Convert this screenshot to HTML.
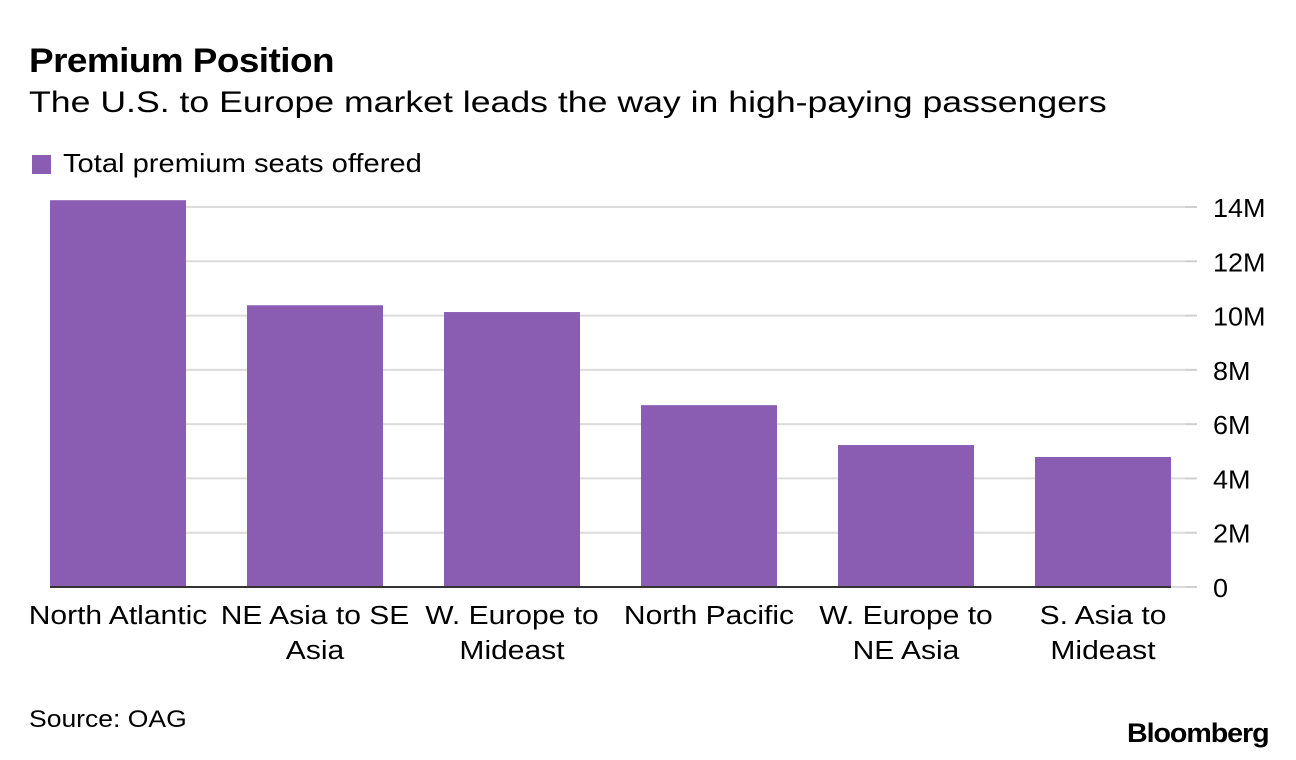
<!DOCTYPE html>
<html><head><meta charset="utf-8"><style>
body{margin:0;background:#fff;font-family:"Liberation Sans",Arial,sans-serif;}
#wrap{position:relative;width:1296px;height:760px;overflow:hidden;}
.t{position:absolute;color:#000;white-space:nowrap;transform-origin:0 0;}
</style></head><body>
<div id="wrap">
<div class="t" style="left:29px;top:42px;font-size:34px;font-weight:bold;letter-spacing:-0.5px;transform:scaleX(1.085);">Premium Position</div>
<div class="t" style="left:29px;top:86px;font-size:30px;transform:scaleX(1.188);">The U.S. to Europe market leads the way in high-paying passengers</div>
<div style="position:absolute;left:32px;top:155px;width:19px;height:19px;background:#8a5cb2;"></div>
<div class="t" style="left:63px;top:148px;font-size:26px;transform:scaleX(1.12);">Total premium seats offered</div>
<svg id="chart" width="1296" height="760" style="position:absolute;left:0;top:0;"></svg>
<div class="t" style="left:29px;top:706px;font-size:24px;transform:scaleX(1.105);">Source: OAG</div>
<div class="t" style="left:1127px;top:718px;font-size:27px;font-weight:bold;letter-spacing:-1px;transform:scaleX(1.06);">Bloomberg</div>
</div>
<script>
const categories=[["North Atlantic"],["NE Asia to SE","Asia"],["W. Europe to","Mideast"],["North Pacific"],["W. Europe to","NE Asia"],["S. Asia to","Mideast"]];
const values=[14.25,10.38,10.13,6.7,5.23,4.79];
const ticks=[0,2,4,6,8,10,12,14];
const tickLabels=["0","2M","4M","6M","8M","10M","12M","14M"];
const NS="http://www.w3.org/2000/svg";
const svg=document.getElementById('chart');
const y0=587,pxPerM=(587-207)/14;
const y=v=>y0-v*pxPerM;
const x=i=>50+i*197;
const bw=136;
function mk(t,a){const e=document.createElementNS(NS,t);for(const k in a)e.setAttribute(k,a[k]);svg.appendChild(e);return e;}
ticks.forEach((t,i)=>{
  const g=mk('line',{x1:50,x2:1185,y1:y(t),y2:y(t),stroke:'#dcdcdc','stroke-width':2});
  
  
  const tk=mk('line',{x1:1185,x2:1197,y1:y(t),y2:y(t),stroke:'#cfcfcf','stroke-width':2});
  
  
  const tx=mk('text',{x:1213,y:y(t)+10,'font-size':26,'font-family':'Liberation Sans, Arial, sans-serif',fill:'#000',transform:'translate(1213,0) scale(1.04,1) translate(-1213,0)'});
  tx.textContent=tickLabels[i];
  
  
});
values.forEach((v,i)=>{
  const r=mk('rect',{x:x(i),y:y(v),width:bw,height:y0-y(v),fill:'#8a5cb2'});
  
  
  const cx=x(i)+bw/2;
  categories[i].forEach((ln,j)=>{
    const tx=mk('text',{x:cx,y:624+j*35,'font-size':26,'text-anchor':'middle','font-family':'Liberation Sans, Arial, sans-serif',fill:'#000',transform:'translate('+cx+',0) scale(1.155,1) translate('+(-cx)+',0)'});
    tx.textContent=ln;
    
    
  });
});
const b=mk('line',{x1:50,x2:1171,y1:y0,y2:y0,stroke:'#333','stroke-width':2});


</script>
</body></html>
